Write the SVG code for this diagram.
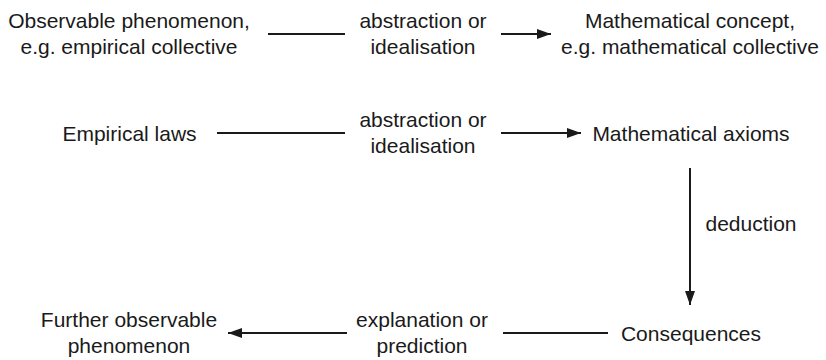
<svg xmlns="http://www.w3.org/2000/svg" width="826" height="360" viewBox="0 0 826 360">
<defs>
<marker id="ah" viewBox="0 0 14 10" refX="14" refY="5" markerWidth="14" markerHeight="10" markerUnits="userSpaceOnUse" orient="auto">
<path d="M0,0 L14,5 L0,10 Z" fill="#1a1a1a"/>
</marker>
<style>
text{font-family:"Liberation Sans",Arial,Helvetica,sans-serif;font-size:21px;fill:#1a1a1a;text-anchor:middle}
.c{stroke:#1a1a1a;stroke-width:2;fill:none}
.a{marker-end:url(#ah)}
</style>
</defs>
<rect width="826" height="360" fill="#fff"/>
<g id="observable">
<text x="129" y="28">Observable phenomenon,</text>
<text x="129" y="54">e.g. empirical collective</text>
</g>
<g id="abstraction1">
<text x="423" y="28">abstraction or</text>
<text x="423" y="54">idealisation</text>
</g>
<g id="concept">
<text x="690" y="28">Mathematical concept,</text>
<text x="690" y="54">e.g. mathematical collective</text>
</g>
<g id="empirical-laws">
<text x="129.5" y="141">Empirical laws</text>
</g>
<g id="abstraction2">
<text x="423" y="127">abstraction or</text>
<text x="423" y="153">idealisation</text>
</g>
<g id="axioms">
<text x="691" y="141">Mathematical axioms</text>
</g>
<g id="deduction">
<text x="751" y="231">deduction</text>
</g>
<g id="further">
<text x="129" y="327">Further observable</text>
<text x="129" y="353">phenomenon</text>
</g>
<g id="explanation">
<text x="422" y="327">explanation or</text>
<text x="422" y="353">prediction</text>
</g>
<g id="consequences">
<text x="691" y="341">Consequences</text>
</g>
<g id="connectors">
<line class="c" x1="268" y1="34" x2="345" y2="34"/>
<line class="c a" x1="501" y1="34" x2="551" y2="34"/>
<line class="c" x1="217" y1="133" x2="345" y2="133"/>
<line class="c a" x1="501" y1="133" x2="581" y2="133"/>
<line class="c a" x1="690" y1="168" x2="690" y2="305"/>
<line class="c" x1="608" y1="333" x2="503" y2="333"/>
<line class="c a" x1="347" y1="333" x2="228" y2="333"/>
</g>
</svg>
